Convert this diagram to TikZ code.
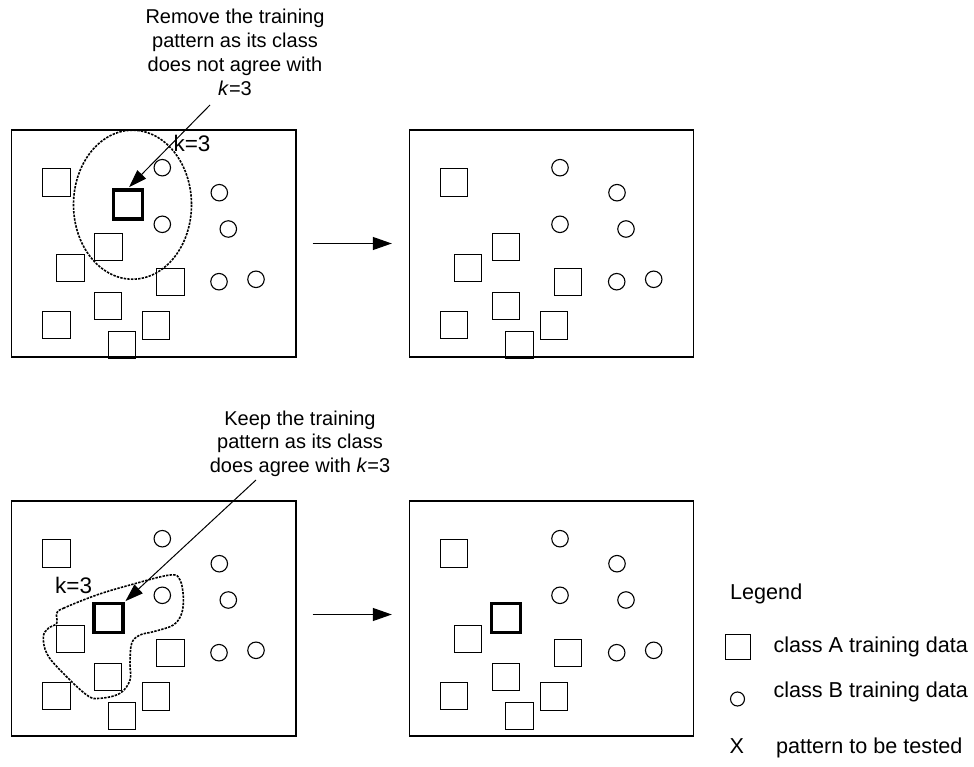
\documentclass[tikz,border=0pt]{standalone}
\usepackage{fontspec}
\setmainfont{Liberation Sans}
\usetikzlibrary{arrows.meta,calc}
\tikzset{
 panel/.style={draw, line width=1.2pt, rectangle, inner sep=0pt},
 sqA/.style={draw, rectangle, line width=1.1pt, minimum size=27.3pt, inner sep=0pt},
 sqT/.style={draw, rectangle, line width=3.4pt, minimum size=29pt, inner sep=0pt},
 cirB/.style={draw, circle, line width=1.1pt, minimum size=16.5pt, inner sep=0pt},
 nbr/.style={line width=1.6pt, dash pattern=on 2.4pt off 1.2pt},
 stepar/.style={line width=1.2pt, -{Triangle[length=19pt,width=13pt]}},
 notear/.style={line width=1pt, -{Triangle[length=18pt,width=12pt]}},
 note/.style={font=\fontsize{20}{23.8}\selectfont, align=center, inner sep=0pt},
 klab/.style={font=\fontsize{22.5}{27}\selectfont, inner sep=0pt, anchor=base west},
 leg/.style={font=\fontsize{21.6}{26}\selectfont, inner sep=0pt, anchor=base west},
}
% #1 prefix, #2 dx, #3 dy, #4 box height, #5 style of square a2
\newcommand{\knnpanel}[5]{%
\begin{scope}[shift={(#2,#3)}]
 \node[panel, minimum width=284.3pt, minimum height=#4pt] (#1) at (153.85,{130+#4/2}) {};
 \node[sqA] (#1-a1) at (56.5,182.5) {};
 \node[#5]  (#1-a2) at (108.5,247) {};
 \node[sqA] (#1-a3) at (70.5,268) {};
 \node[sqA] (#1-a4) at (170.5,282) {};
 \node[sqA] (#1-a5) at (108,306) {};
 \node[sqA] (#1-a6) at (56.5,325) {};
 \node[sqA] (#1-a7) at (156,325.5) {};
 \node[sqA] (#1-a8) at (121.7,345) {};
 \node[cirB] (#1-b1) at (162.3,167.7) {};
 \node[cirB] (#1-b2) at (219.3,192.7) {};
 \node[cirB] (#1-b3) at (162.3,224.3) {};
 \node[cirB] (#1-b4) at (228.3,229) {};
 \node[cirB] (#1-b5) at (219,281.7) {};
 \node[cirB] (#1-b6) at (256,279.3) {};
\end{scope}}
\begin{document}
\begin{tikzpicture}[x=1pt,y=-1pt]
\useasboundingbox (0,0) rectangle (974,767);
% panels
\knnpanel{tl}{0}{0}{227}{sqA}
\knnpanel{tr}{397.7}{0}{227}{sqA}
\knnpanel{bl}{0}{371}{235}{sqT}
\knnpanel{br}{397.7}{371}{235}{sqT}
\node[sqT] (tl-t) at (128,204.5) {};
% neighbourhoods
\draw[nbr] (132.5,204.7) ellipse [x radius=59, y radius=74.5];
\draw[nbr] plot[smooth cycle, tension=0.6] coordinates {
 (56.7,613.3) (63.3,608.3) (96.7,595) (130,585) (170,575) (180,580)
 (183.3,596.7) (181.7,613.3) (173.3,625) (153.3,631.7) (140,635)
 (131.7,643.3) (130,663.3) (130,680) (120,693.3) (100,698.3) (86.7,695)
 (60,670) (46.7,653.3) (43.3,636.7) (48.3,628.3) (56.7,623.3)};
% labels
\node[klab] (tl-k) at (173.3,151.7) {k=3};
\node[klab] (bl-k) at (55,593.3) {k=3};
\node[note, anchor=north] (remove) at (235,9) {Remove the training\\pattern as its class\\does not agree with\\\textit{k}=3};
\node[note, anchor=north] (keep) at (300,410.5) {Keep the training\\pattern as its class\\does agree with \textit{k}=3};
% annotation arrows
\coordinate (rm-s) at (210,105);
\coordinate (kp-s) at (256,480);
\draw[notear, shorten >=1.5pt] (rm-s) -- (tl-t.north);
\draw[notear, shorten >=1pt] (kp-s) -- (bl-a2.north east);
% step arrows
\draw[stepar, shorten <=16pt, shorten >=17pt] (tl.east) -- (tr.west);
\draw[stepar, shorten <=16pt, shorten >=17pt] ([yshift=4pt]bl.east) -- ([yshift=4pt]br.west);
% legend
\node[leg] (legend) at (730,599.3) {Legend};
\node[sqA, minimum size=25pt] (lg-a) at (738,647) {};
\node[leg] (lg-at) at (773.3,652.7) {class A training data};
\node[cirB, minimum size=14pt] (lg-b) at (737.5,699) {};
\node[leg] (lg-bt) at (773.3,697.3) {class B training data};
\node[leg] (lg-x) at (729.3,753) {X};
\node[leg] (lg-xt) at (776,753) {pattern to be tested};
\end{tikzpicture}
\end{document}
